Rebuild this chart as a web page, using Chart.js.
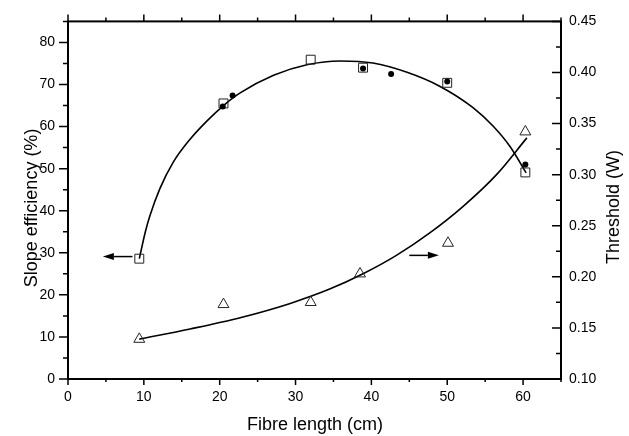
<!DOCTYPE html>
<html>
<head>
<meta charset="utf-8">
<script src="https://cdn.jsdelivr.net/npm/chart.js@4"></script>
<style>
html, body { margin: 0; padding: 0; background: #fff; }
</style>
</head>
<body>
<canvas id="chart" width="629" height="436"></canvas>
<script>
/* Measured points */
const slopeLength = [9.4, 20.5, 32.0, 38.9, 50.0, 60.3];
const slopeEff = [28.6, 65.5, 75.9, 74.0, 70.4, 49.1];

const slopeLength2 = [20.4, 21.7, 38.9, 42.6, 50.0, 60.3];
const slopeEff2 = [64.8, 67.4, 73.8, 72.5, 70.7, 51.0];

const thrLength = [9.4, 20.5, 32.0, 38.5, 50.1, 60.3];
const thrValue = [0.139, 0.173, 0.175, 0.203, 0.233, 0.342];

/* Fitted curves */
const slopeFitX = [9.4, 10.2, 10.8, 12.1, 13.9, 16.1, 18.3, 20.5, 22.7, 27.1, 31.5, 35.9, 40.2, 44.7, 49.0, 53.4, 56.1, 58.3, 60.4];
const slopeFitY = [28.6, 35.0, 38.8, 45.2, 51.6, 57.0, 61.3, 65.0, 68.0, 72.2, 74.7, 75.6, 75.1, 72.9, 69.6, 64.5, 60.0, 55.2, 49.0];

const thrFitX = [9.4, 16.1, 22.7, 29.3, 34.5, 38.9, 43.3, 47.7, 52.1, 56.5, 60.5];
const thrFitY = [0.139, 0.149, 0.160, 0.174, 0.188, 0.203, 0.221, 0.243, 0.269, 0.300, 0.336];

/* Arrows: [tail, head] along x, at one y value */
const arrowLeftX = [8.5, 4.6];
const arrowLeftY = 29.1;
const arrowRightX = [45.0, 48.9];
const arrowRightY = 0.221;

const pts = (xs, ys) => xs.map((x, i) => ({ x: x, y: ys[i] }));

Chart.defaults.font.family = '"Liberation Sans", Arial, sans-serif';
Chart.defaults.font.size = 14;
Chart.defaults.color = '#000';

function drawArrow(ctx, x1, x2, y) {
  const dir = Math.sign(x2 - x1);
  const head = 11;
  ctx.beginPath();
  ctx.moveTo(x1, y);
  ctx.lineTo(x2 - dir * head, y);
  ctx.stroke();
  ctx.beginPath();
  ctx.moveTo(x2, y);
  ctx.lineTo(x2 - dir * head, y - 3.5);
  ctx.lineTo(x2 - dir * head, y + 3.5);
  ctx.closePath();
  ctx.fill();
}

const frame = {
  id: 'frame',
  afterDraw(chart) {
    const { ctx, chartArea: a, scales } = chart;
    ctx.save();
    ctx.strokeStyle = '#000';
    ctx.fillStyle = '#000';
    ctx.lineWidth = 2;
    ctx.strokeRect(a.left, a.top, a.right - a.left, a.bottom - a.top);

    ctx.lineWidth = 1.5;
    ctx.beginPath();
    scales.x.ticks.forEach(t => {
      const p = scales.x.getPixelForValue(t.value);
      const major = t.value % 10 === 0;
      ctx.moveTo(p, a.bottom);
      ctx.lineTo(p, a.bottom + (major ? 6 : 3));
      ctx.moveTo(p, a.top);
      ctx.lineTo(p, a.top - (major ? 7 : 4));
    });
    scales.y.ticks.forEach(t => {
      const p = scales.y.getPixelForValue(t.value);
      const major = t.value % 10 === 0;
      ctx.moveTo(a.left, p);
      ctx.lineTo(a.left - (major ? 9 : 5), p);
    });
    scales.y2.ticks.forEach(t => {
      const p = scales.y2.getPixelForValue(t.value);
      const major = Math.round(t.value * 1000) % 50 === 0;
      ctx.moveTo(a.right, p);
      ctx.lineTo(a.right - (major ? 9 : 5), p);
    });
    ctx.stroke();

    // arrows pointing to each axis
    ctx.lineWidth = 1.5;
    drawArrow(ctx, scales.x.getPixelForValue(arrowLeftX[0]), scales.x.getPixelForValue(arrowLeftX[1]), scales.y.getPixelForValue(arrowLeftY));
    drawArrow(ctx, scales.x.getPixelForValue(arrowRightX[0]), scales.x.getPixelForValue(arrowRightX[1]), scales.y2.getPixelForValue(arrowRightY));

    // axis titles
    ctx.font = '18px "Liberation Sans", Arial, sans-serif';
    ctx.textAlign = 'center';
    ctx.textBaseline = 'alphabetic';
    ctx.fillText('Fibre length (cm)', 315, 430);
    ctx.save();
    ctx.translate(36.5, 208);
    ctx.rotate(-Math.PI / 2);
    ctx.fillText('Slope efficiency (%)', 0, 0);
    ctx.restore();
    ctx.save();
    ctx.translate(619, 207);
    ctx.rotate(-Math.PI / 2);
    ctx.fillText('Threshold (W)', 0, 0);
    ctx.restore();
    ctx.restore();
  }
};

new Chart(document.getElementById('chart'), {
  type: 'scatter',
  data: {
    datasets: [
      {
        data: pts(slopeLength2, slopeEff2),
        yAxisID: 'y',
        pointStyle: 'circle',
        pointRadius: 3,
        backgroundColor: '#000',
        borderColor: '#000',
        borderWidth: 0
      },
      {
        data: pts(slopeLength, slopeEff),
        yAxisID: 'y',
        pointStyle: 'rect',
        pointRadius: 6.3,
        backgroundColor: 'rgba(0,0,0,0)',
        borderColor: '#222',
        borderWidth: 1
      },
      {
        data: pts(thrLength, thrValue),
        yAxisID: 'y2',
        pointStyle: 'triangle',
        pointRadius: 6.3,
        backgroundColor: 'rgba(0,0,0,0)',
        borderColor: '#222',
        borderWidth: 1
      },
      {
        data: pts(slopeFitX, slopeFitY),
        yAxisID: 'y',
        showLine: true,
        cubicInterpolationMode: 'monotone',
        pointRadius: 0,
        borderColor: '#000',
        borderWidth: 1.6
      },
      {
        data: pts(thrFitX, thrFitY),
        yAxisID: 'y2',
        showLine: true,
        cubicInterpolationMode: 'monotone',
        pointRadius: 0,
        borderColor: '#000',
        borderWidth: 1.6
      }
    ]
  },
  options: {
    responsive: false,
    animation: false,
    layout: { padding: { top: 15, left: 0, right: 0, bottom: 0 } },
    plugins: { legend: { display: false }, tooltip: { enabled: false } },
    scales: {
      x: {
        type: 'linear',
        position: 'bottom',
        min: 0, max: 65,
        grid: { display: false, drawTicks: false },
        border: { display: false },
        ticks: {
          stepSize: 5, autoSkip: false, maxRotation: 0, padding: 10,
          callback: v => (v % 10 === 0 ? String(v) : '')
        },
        afterFit(s) { s.height = 57; }
      },
      y: {
        position: 'left',
        min: 0, max: 85,
        grid: { display: false, drawTicks: false },
        border: { display: false },
        ticks: {
          stepSize: 5, autoSkip: false, padding: 13,
          callback: v => (v % 10 === 0 ? String(v) : '')
        },
        afterFit(s) { s.width = 68; }
      },
      y2: {
        position: 'right',
        min: 0.10, max: 0.45,
        grid: { display: false, drawTicks: false },
        border: { display: false },
        ticks: {
          stepSize: 0.025, autoSkip: false, padding: 8,
          callback: v => (Math.round(v * 1000) % 50 === 0 ? v.toFixed(2) : '')
        },
        afterFit(s) { s.width = 68; }
      }
    }
  },
  plugins: [frame]
});
</script>
</body>
</html>
